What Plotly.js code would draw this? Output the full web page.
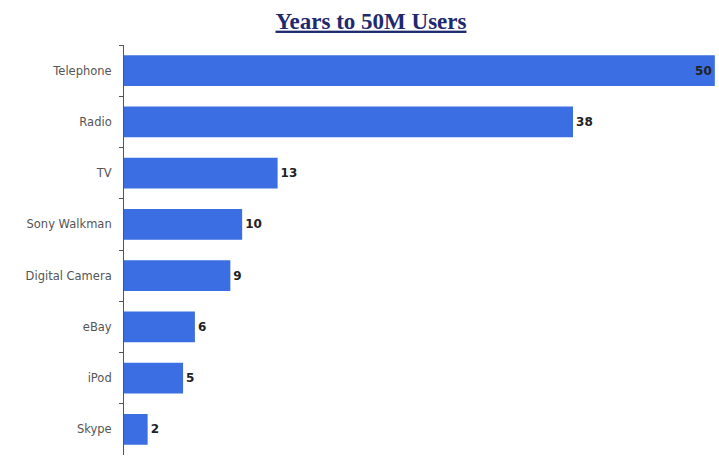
<!DOCTYPE html>
<html><head><meta charset="utf-8">
<script src="https://cdn.plot.ly/plotly-3.0.1.min.js"></script>
<style>html,body{margin:0;padding:0;background:#fff}</style>
</head><body><div id="chart" style="width:719px;height:458px"></div>
<script>
const categories = ["Telephone","Radio","TV","Sony Walkman","Digital Camera","eBay","iPod","Skype"];
const years = [50,38,13,10,9,6,5,2];
const labels = years.map(String);

const positions = categories.map((c,i)=> i===0 ? 'inside' : 'outside');

const trace = {
  type:'bar', orientation:'h',
  x: years, y: categories,
  text: labels,
  textposition: positions,
  insidetextanchor:'end',
  cliponaxis:false,
  constraintext:'none',
  textfont:{family:'DejaVu Sans, Verdana, sans-serif', size:12, color:'#222', weight:'bold'},
  insidetextfont:{family:'DejaVu Sans, Verdana, sans-serif', size:12, color:'#222', weight:'bold'},
  outsidetextfont:{family:'DejaVu Sans, Verdana, sans-serif', size:12, color:'#222', weight:'bold'},
  marker:{color:'#3a6ee2', line:{width:0}},
  hoverinfo:'none'
};

const layout = {
  width:719, height:458,
  margin:{l:124, r:3, t:45, b:3},
  paper_bgcolor:'#ffffff', plot_bgcolor:'#ffffff',
  showlegend:false,
  bargap:0.4,
  uniformtext:{minsize:12, mode:'show'},
  title:{
    text:'<b><span style="text-decoration:underline">Years to 50M Users</span></b>',
    x:0.516, xref:'container', xanchor:'center', y:0.955, yref:'container', yanchor:'middle',
    font:{family:'Liberation Serif, Times New Roman, serif', size:23, color:'#1f2a6e'}
  },
  xaxis:{visible:false, range:[0,50.1], fixedrange:true},
  yaxis:{
    type:'category', autorange:'reversed',
    showline:true, linecolor:'#555', linewidth:1,
    ticks:'outside', tickson:'boundaries', ticklen:4, tickcolor:'#555',
    showgrid:false, zeroline:false,
    tickfont:{family:'DejaVu Sans, Verdana, sans-serif', size:11.5, color:'#555'},
    ticklabelstandoff:9
  }
};

Plotly.newPlot('chart',[trace],layout,{displayModeBar:false, staticPlot:true});
</script></body></html>
